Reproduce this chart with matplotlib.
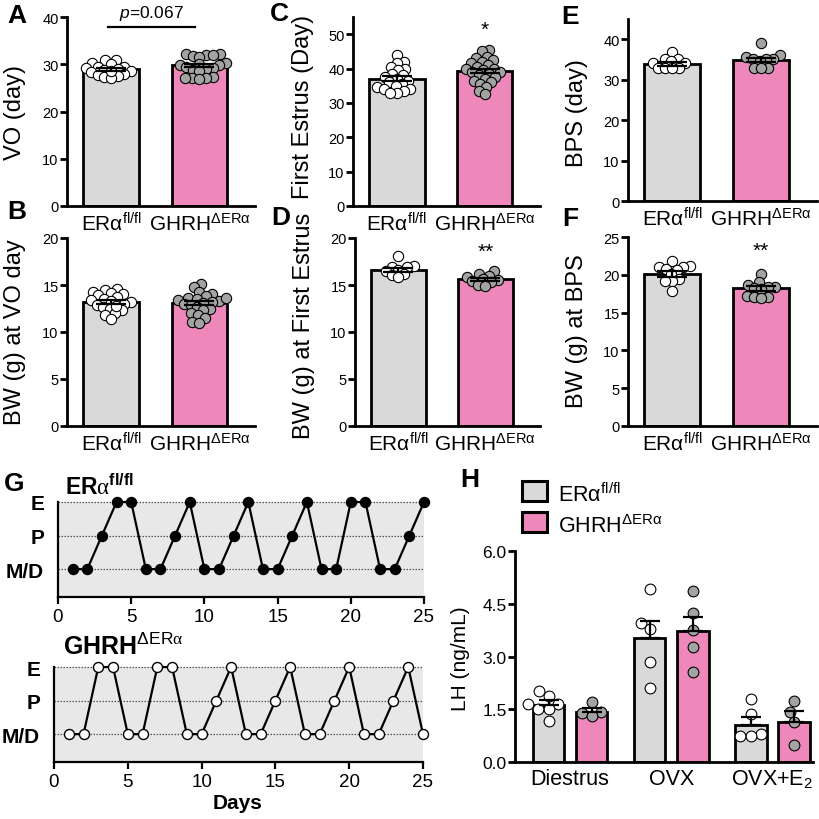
import numpy as np
import matplotlib
matplotlib.use("Agg")
import matplotlib.pyplot as plt
from matplotlib.patches import Rectangle

plt.rcParams['font.family'] = ['Liberation Sans', 'DejaVu Sans']
plt.rcParams['mathtext.fontset'] = 'custom'
plt.rcParams['mathtext.rm'] = 'Liberation Sans'
plt.rcParams['mathtext.it'] = 'Liberation Sans:italic'
plt.rcParams['mathtext.bf'] = 'Liberation Sans:bold'
plt.rcParams['mathtext.sf'] = 'Liberation Serif'

# ---------------- data ----------------
groups = ['ERα$^{\\mathregular{fl/fl}}$', 'GHRH$^{\\mathregular{ΔERα}}$']

# A: VO (day)
A_wt = [31.0, 30.8, 30.2, 30.0, 29.5, 29.4, 29.2, 29.0, 28.8, 28.6, 28.3, 28.0, 27.8, 27.5, 27.2, 27.0, 28.5]
A_ko = [32.2, 32.1, 32.0, 32.0, 31.8, 31.5, 30.2, 30.0, 29.9, 29.8, 29.5, 29.2, 29.0, 28.8, 28.5, 27.2, 27.0, 27.0, 26.9, 27.1]
A_mean = [28.9, 29.8]
A_sem = [0.3, 0.35]

# C: First estrus (Day)
C_wt = [44.0, 42.0, 41.5, 40.5, 40.0, 39.5, 38.5, 38.0, 37.5, 37.0, 36.5, 36.0, 35.5, 35.0, 34.5, 34.0, 34.0, 33.5, 33.0, 33.0]
C_ko = [45.5, 45.0, 43.5, 43.0, 42.5, 42.0, 41.5, 41.0, 40.5, 40.0, 40.0, 39.5, 39.0, 39.0, 38.5, 38.0, 37.5, 37.0, 36.5, 36.0, 35.5, 34.5, 33.5, 32.5]
C_mean = [37.0, 39.3]
C_sem = [0.7, 0.7]

# E: BPS (day)
E_wt = [36.9, 35.2, 35.0, 34.5, 34.2, 34.0, 33.0, 32.9, 32.9, 32.8]
E_ko = [39.0, 36.0, 35.5, 35.2, 35.0, 35.0, 34.5, 33.0, 32.9, 32.8]
E_mean = [33.8, 34.9]
E_sem = [0.45, 0.55]

# B: BW at VO day
B_wt = [14.6, 14.5, 14.3, 14.2, 14.0, 13.9, 13.7, 13.5, 13.4, 13.3, 13.2, 13.0, 12.9, 12.7, 12.5, 12.3, 12.0, 11.8, 11.4, 12.8]
B_ko = [15.1, 14.8, 14.3, 14.0, 13.8, 13.6, 13.5, 13.4, 13.3, 13.2, 13.1, 13.0, 12.9, 12.7, 12.5, 12.3, 12.0, 11.8, 11.5, 11.1, 11.0, 13.6]
B_mean = [13.2, 13.05]
B_sem = [0.2, 0.22]

# D: BW at first estrus
D_wt = [18.1, 17.0, 16.9, 16.9, 16.6, 16.5, 16.2, 16.1, 15.8]
D_ko = [16.5, 16.2, 16.0, 15.8, 15.6, 15.5, 15.4, 15.3, 15.0, 14.9]
D_mean = [16.6, 15.6]
D_sem = [0.22, 0.15]

# F: BW at BPS
F_wt = [21.8, 21.2, 21.0, 21.0, 20.8, 20.6, 20.1, 19.5, 19.2, 19.2, 17.9]
F_ko = [20.1, 19.0, 18.6, 18.4, 18.4, 18.2, 18.1, 17.2, 17.0, 17.0, 16.9]
F_mean = [20.1, 18.2]
F_sem = [0.35, 0.3]

# G: estrous cycle
stage_names = ['M/D', 'P', 'E']
days = list(range(1, 26))
G_wt = ['M/D', 'M/D', 'P', 'E', 'E', 'M/D', 'M/D', 'P', 'E', 'M/D', 'M/D', 'P', 'E',
        'M/D', 'M/D', 'P', 'E', 'M/D', 'M/D', 'E', 'E', 'M/D', 'M/D', 'P', 'E']
G_ko = ['M/D', 'M/D', 'E', 'E', 'M/D', 'M/D', 'E', 'E', 'M/D', 'M/D', 'P', 'E', 'M/D',
        'M/D', 'P', 'E', 'M/D', 'M/D', 'P', 'E', 'M/D', 'M/D', 'P', 'E', 'M/D']

# H: LH
H_conditions = ['Diestrus', 'OVX', 'OVX+E$_\\mathregular{2}$']
H_wt_points = [[2.02, 1.88, 1.64, 1.64, 1.52, 1.52, 1.17],
               [4.93, 3.96, 3.79, 2.84, 2.11],
               [1.78, 1.37, 0.79, 0.74, 0.74]]
H_ko_points = [[1.71, 1.42, 1.40, 1.31],
               [4.86, 4.25, 3.75, 3.28, 2.57],
               [1.73, 1.42, 1.14, 0.47]]
H_wt_mean = [1.63, 3.52, 1.05]
H_wt_sem = [0.12, 0.50, 0.24]
H_ko_mean = [1.42, 3.72, 1.15]
H_ko_sem = [0.12, 0.40, 0.30]

# ---------------- style ----------------
GRAY = '#d9d9d9'
PINK = '#ee88bb'
DOTGRAY = '#a3a3a3'
W, Hpx = 820, 820

fig = plt.figure(figsize=(8.2, 8.2), dpi=100)


def rect(l, t, r, b):
    return [l / W, 1 - b / Hpx, (r - l) / W, (b - t) / Hpx]


def fx(x):
    return x / W


def fy(y):
    return 1 - y / Hpx


def swarm(ax, xc, vals, diam_px):
    vals = np.asarray(vals, float)
    trans = ax.transData
    pts = trans.transform(np.column_stack([np.full(len(vals), xc), vals]))
    ys = pts[:, 1]
    order = np.argsort(ys)
    placed = []
    xs = np.zeros(len(vals))
    d = diam_px
    for i in order:
        y = ys[i]
        cands = [0.0]
        for (px, py) in placed:
            dy = y - py
            if abs(dy) < d:
                dxx = np.sqrt(d * d - dy * dy)
                cands += [px + dxx, px - dxx]
        cands.sort(key=lambda c: (abs(c), c))
        for c in cands:
            if all((c - px) ** 2 + (y - py) ** 2 >= d * d - 1e-6 for px, py in placed):
                xs[i] = c
                placed.append((c, y))
                break
    out = trans.inverted().transform(np.column_stack([pts[0, 0] + xs, ys]))
    return out[:, 0]


def style_axes(ax, lw=2.0):
    for s in ['top', 'right']:
        ax.spines[s].set_visible(False)
    for s in ['left', 'bottom']:
        ax.spines[s].set_linewidth(lw)
    ax.tick_params(axis='y', width=lw, length=5, labelsize=10.5, pad=1)
    ax.tick_params(axis='x', length=0, labelsize=15, pad=4)


def bar_panel(box, wt, ko, mean, sem, ylim, yticks, ylabel, ylab_xy, letter, letter_xy,
              star=None, star_y=None):
    ax = fig.add_axes(rect(*box))
    ax.set_xlim(-0.5, 1.63)
    ax.set_ylim(*ylim)
    ax.set_yticks(yticks)
    ax.bar([0, 1], mean, width=0.63, color=[GRAY, PINK], edgecolor='black', linewidth=2, zorder=1)
    diam = 10
    for i, (vals, fc) in enumerate([(wt, 'white'), (ko, DOTGRAY)]):
        xs = swarm(ax, i, vals, diam * 0.7)
        ax.scatter(xs, vals, s=55, facecolor=fc, edgecolor='black', linewidth=0.8, zorder=2,
                   clip_on=False)
    ax.errorbar([0, 1], mean, yerr=sem, fmt='none', ecolor='black', elinewidth=1.6,
                capsize=11, capthick=1.6, zorder=3)
    ax.set_xticks([0, 1])
    ax.set_xticklabels(groups)
    style_axes(ax)
    fig.text(fx(ylab_xy[0]), fy(ylab_xy[1]), ylabel, rotation=90, ha='center', va='center',
             fontsize=17)
    fig.text(fx(letter_xy[0]), fy(letter_xy[1]), letter, ha='center', va='center',
             fontsize=19, fontweight='bold')
    if star:
        ax.text(1, star_y, star, ha='center', va='center', fontsize=15)
    return ax


axA = bar_panel((67, 18, 255, 207), A_wt, A_ko, A_mean, A_sem, (0, 40), [0, 10, 20, 30, 40],
                'VO (day)', (15, 112), 'A', (17, 16))
axA.plot([-0.03, 0.95], [37.9, 37.9], color='black', lw=1.6, clip_on=False)
axA.text(0.46, 38.9, '$\\mathit{p}$=0.067', ha='center', va='bottom', fontsize=12.5, clip_on=False)

bar_panel((353, 18, 540, 207), C_wt, C_ko, C_mean, C_sem, (0, 55), [0, 10, 20, 30, 40, 50],
          'First Estrus (Day)', (303, 107), 'C', (279, 14), '*', 51.5)
bar_panel((628, 20, 817, 202), E_wt, E_ko, E_mean, E_sem, (0, 45), [0, 10, 20, 30, 40],
          'BPS (day)', (577, 113), 'E', (570, 17))
bar_panel((67, 239, 255, 427), B_wt, B_ko, B_mean, B_sem, (0, 20), [0, 5, 10, 15, 20],
          'BW (g) at VO day', (15, 332), 'B', (17, 212))
bar_panel((355, 239, 540, 427), D_wt, D_ko, D_mean, D_sem, (0, 20), [0, 5, 10, 15, 20],
          'BW (g) at First Estrus', (304, 326), 'D', (281, 218), '**', 18.6)
bar_panel((628, 238, 817, 427), F_wt, F_ko, F_mean, F_sem, (0, 25), [0, 5, 10, 15, 20, 25],
          'BW (g) at BPS', (577, 331), 'F', (570, 219), '**', 23.3)


# ---------------- G ----------------
def cycle_panel(box, stages, filled):
    ax = fig.add_axes(rect(*box))
    ax.set_xlim(0, 25)
    ax.set_ylim(0.17, 3.0)
    ax.set_facecolor('#e8e8e8')
    yv = [stage_names.index(s) + 1 for s in stages]
    for k in range(1, 4):
        ax.axhline(k, color='#555555', lw=0.9, ls=(0, (1.2, 1.2)), zorder=1, clip_on=False)
    ax.plot(days, yv, color='black', lw=1.6, zorder=2, clip_on=False,
            marker='o', ms=7.2, mfc='black' if filled else 'white', mec='black', mew=1.0)
    ax.set_yticks([1, 2, 3])
    ax.set_yticklabels(stage_names, fontsize=15, fontweight='bold')
    ax.set_xticks([0, 5, 10, 15, 20, 25])
    for s in ['top', 'right']:
        ax.spines[s].set_visible(False)
    for s in ['left', 'bottom']:
        ax.spines[s].set_linewidth(1.6)
    ax.tick_params(axis='y', length=0, pad=10)
    ax.tick_params(axis='x', length=5, width=1.6, labelsize=13.5, pad=3)
    return ax


cycle_panel((58, 503, 424, 598), G_wt, True)
cycle_panel((54, 668, 423, 763), G_ko, False)
fig.text(fx(65), fy(495), '$\\mathbf{ER}\\mathsf{α}^{\\mathbf{fl/fl}}$', fontsize=16.5,
         ha='left', va='baseline')
fig.text(fx(63), fy(655), '$\\mathbf{GHRH}^{\\mathregular{ΔER}\\mathsf{α}}$', fontsize=18,
         ha='left', va='baseline')
fig.text(fx(238), fy(804), 'Days', fontsize=15, fontweight='bold', ha='center', va='center')
fig.text(fx(14), fy(484), 'G', fontsize=19, fontweight='bold', ha='center', va='center')

# ---------------- H ----------------
axH = fig.add_axes(rect(515, 552, 813, 763))
axH.set_xlim(-0.545, 2.4)
axH.set_ylim(0, 6)
xg = np.arange(len(H_conditions))
off, bw = 0.213, 0.31
axH.bar(xg - off, H_wt_mean, width=bw, color=GRAY, edgecolor='black', linewidth=2, zorder=1)
axH.bar(xg + off, H_ko_mean, width=bw, color=PINK, edgecolor='black', linewidth=2, zorder=1)
axH.errorbar(xg - off, H_wt_mean, yerr=[np.zeros(3), H_wt_sem], fmt='none', ecolor='black',
             elinewidth=1.6, capsize=7, capthick=1.6, zorder=3)
axH.errorbar(xg + off, H_ko_mean, yerr=[np.zeros(3), H_ko_sem], fmt='none', ecolor='black',
             elinewidth=1.6, capsize=7, capthick=1.6, zorder=3)
for i in range(3):
    for xc, vals, fc in [(xg[i] - off, H_wt_points[i], 'white'), (xg[i] + off, H_ko_points[i], DOTGRAY)]:
        xs = swarm(axH, xc, vals, 10.5)
        axH.scatter(xs, vals, s=60, facecolor=fc, edgecolor='black', linewidth=0.8, zorder=2)
axH.set_yticks([0, 1.5, 3.0, 4.5, 6.0])
axH.set_yticklabels(['0.0', '1.5', '3.0', '4.5', '6.0'])
axH.set_xticks(xg)
axH.set_xticklabels(H_conditions)
style_axes(axH)
axH.tick_params(axis='y', labelsize=12.5)
axH.tick_params(axis='x', labelsize=15.5)
fig.text(fx(461), fy(659), 'LH (ng/mL)', rotation=90, ha='center', va='center', fontsize=15)
fig.text(fx(470), fy(480), 'H', fontsize=19, fontweight='bold', ha='center', va='center')

# legend
for (top, col, lab) in [(482, GRAY, groups[0]), (513, PINK, groups[1])]:
    fig.patches.append(Rectangle((fx(522), fy(top + 20)), 25 / W, 20 / Hpx, transform=fig.transFigure,
                                 facecolor=col, edgecolor='black', linewidth=2.2))
    fig.text(fx(558), fy(top + 20), lab, fontsize=15.5, ha='left', va='baseline')

fig.savefig('out.png', dpi=100)
